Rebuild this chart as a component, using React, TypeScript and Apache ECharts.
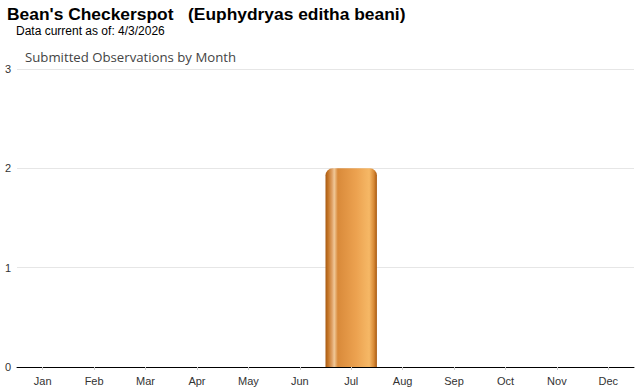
import React, { useEffect, useRef } from "react";
import * as echarts from "echarts";

const months = ["Jan", "Feb", "Mar", "Apr", "May", "Jun", "Jul", "Aug", "Sep", "Oct", "Nov", "Dec"];
const observations = [0, 0, 0, 0, 0, 0, 2, 0, 0, 0, 0, 0];
const yTicks = [0, 1, 2, 3];

export default function App() {
  const ref = useRef<HTMLDivElement>(null);
  useEffect(() => {
    if (!ref.current) return;
    const chart = echarts.init(ref.current, null, { renderer: "svg" });
    const barGradient = new echarts.graphic.LinearGradient(0, 0, 1, 0, [
      { offset: 0, color: "#a85a12" },
      { offset: 0.06, color: "#c97a2c" },
      { offset: 0.13, color: "#e0a46a" },
      { offset: 0.17, color: "#f0c898" },
      { offset: 0.24, color: "#d98a3a" },
      { offset: 0.6, color: "#eca250" },
      { offset: 0.85, color: "#f6b866" },
      { offset: 0.94, color: "#d88a36" },
      { offset: 1, color: "#a85a12" },
    ]);
    chart.setOption({
      animation: false,
      title: [
        {
          text: "Bean's Checkerspot   (Euphydryas editha beani)",
          left: 7,
          top: 5,
          padding: 0,
          textStyle: { fontFamily: "Liberation Sans, Arial", fontSize: 17.4, fontWeight: "bold", color: "#000" },
        },
        {
          text: "Data current as of: 4/3/2026",
          left: 16,
          top: 25,
          padding: 0,
          textStyle: { fontFamily: "Liberation Sans, Arial", fontSize: 12, fontWeight: "normal", color: "#000" },
        },
        {
          text: "Submitted Observations by Month",
          left: 25,
          top: 50,
          padding: 0,
          textStyle: { fontFamily: "Open Sans, DejaVu Sans", fontSize: 13.2, fontWeight: "normal", color: "#444" },
        },
      ],
      grid: { left: 17, right: 6, top: 69, bottom: 23, containLabel: false },
      xAxis: {
        type: "category",
        data: months,
        axisLine: { show: true, lineStyle: { color: "#000", width: 1 } },
        axisTick: { show: true, alignWithLabel: true, length: 3, lineStyle: { color: "#ccc" } },
        axisLabel: { color: "#333", fontFamily: "Liberation Sans, Arial", fontSize: 11, margin: 8 },
      },
      yAxis: {
        type: "value",
        min: yTicks[0],
        max: yTicks[yTicks.length - 1],
        interval: 1,
        axisLine: { show: false },
        axisTick: { show: false },
        splitLine: { show: true, lineStyle: { color: "#e6e6e6" } },
        axisLabel: { color: "#333", fontFamily: "Liberation Sans, Arial", fontSize: 11, margin: 6 },
      },
      series: [
        {
          type: "bar",
          data: observations,
          barCategoryGap: "0%",
          itemStyle: { color: barGradient, borderRadius: [7, 7, 0, 0] },
        },
      ],
    });
    return () => chart.dispose();
  }, []);
  return <div ref={ref} style={{ width: 640, height: 390, position: "absolute", left: 0, top: 0 }} />;
}
